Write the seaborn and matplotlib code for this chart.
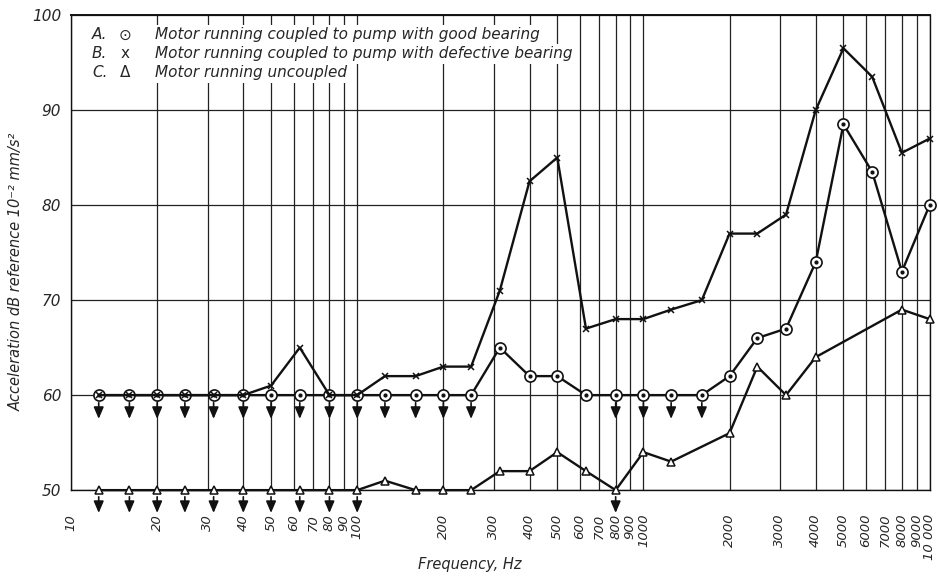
import matplotlib
matplotlib.use("Agg")
import matplotlib.pyplot as plt
import seaborn as sns

# third-octave band centres, Hz
freq = [12.5, 16, 20, 25, 31.5, 40, 50, 63, 80, 100, 125, 160, 200, 250, 315,
        400, 500, 630, 800, 1000, 1250, 1600, 2000, 2500, 3150, 4000, 5000,
        6300, 8000, 10000]

# A: motor coupled to pump, good bearing
good_bearing = [60, 60, 60, 60, 60, 60, 60, 60, 60, 60, 60, 60, 60, 60, 65,
                62, 62, 60, 60, 60, 60, 60, 62, 66, 67, 74, 88.5,
                83.5, 73, 80]

# B: motor coupled to pump, defective bearing
defective_bearing = [60, 60, 60, 60, 60, 60, 61, 65, 60, 60, 62, 62, 63, 63, 71,
                     82.5, 85, 67, 68, 68, 69, 70, 77, 77, 79, 90, 96.5,
                     93.5, 85.5, 87]

# C: motor uncoupled (no readings at 1600, 5000, 6300)
uncoupled_freq = [12.5, 16, 20, 25, 31.5, 40, 50, 63, 80, 100, 125, 160, 200,
                  250, 315, 400, 500, 630, 800, 1000, 1250, 2000, 2500, 3150,
                  4000, 8000, 10000]
uncoupled = [50, 50, 50, 50, 50, 50, 50, 50, 50, 50, 51, 50, 50,
             50, 52, 52, 54, 52, 50, 54, 53, 56, 63, 60,
             64, 69, 68]

# readings at the floor of the instrument ("less than" arrows)
good_below = [12.5, 16, 20, 25, 31.5, 40, 50, 63, 80, 100, 125, 160, 200, 250,
              800, 1000, 1250, 1600]
good_floor = 60
unc_below = [12.5, 16, 20, 25, 31.5, 40, 50, 63, 80, 100, 800]
unc_floor = 50

xtick_vals = [10, 20, 30, 40, 50, 60, 70, 80, 90, 100, 200, 300, 400, 500, 600,
              700, 800, 900, 1000, 2000, 3000, 4000, 5000, 6000, 7000, 8000,
              9000, 10000]
xtick_text = ["10", "20", "30", "40", "50", "60", "70", "80", "90", "100",
              "200", "300", "400", "500", "600", "700", "800", "900", "1000",
              "2000", "3000", "4000", "5000", "6000", "7000", "8000", "9000",
              "10 000"]
ytick_vals = [50, 60, 70, 80, 90, 100]

legend_rows = [("A.", "\u2299", "Motor running coupled to pump with good bearing"),
               ("B.", "x", "Motor running coupled to pump with defective bearing"),
               ("C.", "\u0394", "Motor running uncoupled")]

sns.set_theme(style="white")
plt.rcParams["font.family"] = ["DejaVu Sans"]

fig = plt.figure(figsize=(9.39, 5.78), dpi=100)
ax = fig.add_axes([0.0756, 0.152, 0.9144, 0.822])
ax.set_xscale("log")

ink = "#111111"

sns.lineplot(x=uncoupled_freq, y=uncoupled, ax=ax, color=ink, lw=1.7,
             marker="^", ms=6, markerfacecolor="white", markeredgecolor=ink,
             markeredgewidth=1.1, clip_on=False, zorder=3, estimator=None)
sns.lineplot(x=freq, y=good_bearing, ax=ax, color=ink, lw=1.7,
             marker="o", ms=8, markerfacecolor="white", markeredgecolor=ink,
             markeredgewidth=1.2, clip_on=False, zorder=3, estimator=None)
sns.lineplot(x=freq, y=defective_bearing, ax=ax, color=ink, lw=1.7,
             marker="x", ms=5, markeredgecolor=ink, markeredgewidth=1.1,
             clip_on=False, zorder=4, estimator=None)
ax.plot(freq, good_bearing, ls="none", marker="o", ms=2, color=ink, zorder=5,
        clip_on=False)

for f in good_below:
    ax.annotate("", xy=(f, good_floor - 2.5), xytext=(f, good_floor - 0.8),
                arrowprops=dict(arrowstyle="-|>,head_length=0.7,head_width=0.3",
                                color=ink, lw=1.2, mutation_scale=10,
                                shrinkA=0, shrinkB=0),
                annotation_clip=False, zorder=4)
for f in unc_below:
    ax.annotate("", xy=(f, unc_floor - 2.4), xytext=(f, unc_floor - 0.7),
                arrowprops=dict(arrowstyle="-|>,head_length=0.7,head_width=0.3",
                                color=ink, lw=1.2, mutation_scale=10,
                                shrinkA=0, shrinkB=0),
                annotation_clip=False, zorder=4)

ax.set_xlim(10, 10000)
ax.set_ylim(50, 100)
ax.set_xticks(xtick_vals)
ax.set_xticklabels(xtick_text, rotation=90, fontstyle="italic", fontsize=9.5)
ax.xaxis.set_minor_locator(matplotlib.ticker.NullLocator())
ax.set_yticks(ytick_vals)
ax.set_yticklabels([str(v) for v in ytick_vals], fontstyle="italic", fontsize=11)
ax.tick_params(axis="x", direction="out", length=15, width=0.9, color=ink, pad=2)
ax.tick_params(axis="y", direction="out", length=6, width=0.9, color=ink, pad=1)
ax.grid(True, color="#222222", lw=0.9)
ax.set_axisbelow(True)
for s in ax.spines.values():
    s.set_color(ink)
    s.set_linewidth(1.0)
ax.spines["top"].set_linewidth(1.4)

ax.set_xlabel("Frequency, Hz", fontstyle="italic", fontsize=10.5)
ax.xaxis.set_label_coords(0.464, -0.14)
ax.set_ylabel("Acceleration dB reference 10\u207b\u00b2 mm/s\u00b2",
              fontstyle="italic", fontsize=10.5)
ax.yaxis.set_label_coords(-0.055, 0.46)

box = dict(facecolor="white", edgecolor="none", pad=2)
for i, (tag, sym, desc) in enumerate(legend_rows):
    yy = 0.958 - i * 0.04
    ax.text(0.0244, yy, tag, transform=ax.transAxes, fontsize=11,
            fontstyle="italic", va="center", ha="left", bbox=box, zorder=6)
    ax.text(0.0629, yy, sym, transform=ax.transAxes, fontsize=11,
            va="center", ha="center", bbox=box, zorder=6)
    ax.text(0.0978, yy, desc, transform=ax.transAxes, fontsize=11,
            fontstyle="italic", va="center", ha="left", bbox=box, zorder=6)

fig.savefig("out.png", dpi=100)
